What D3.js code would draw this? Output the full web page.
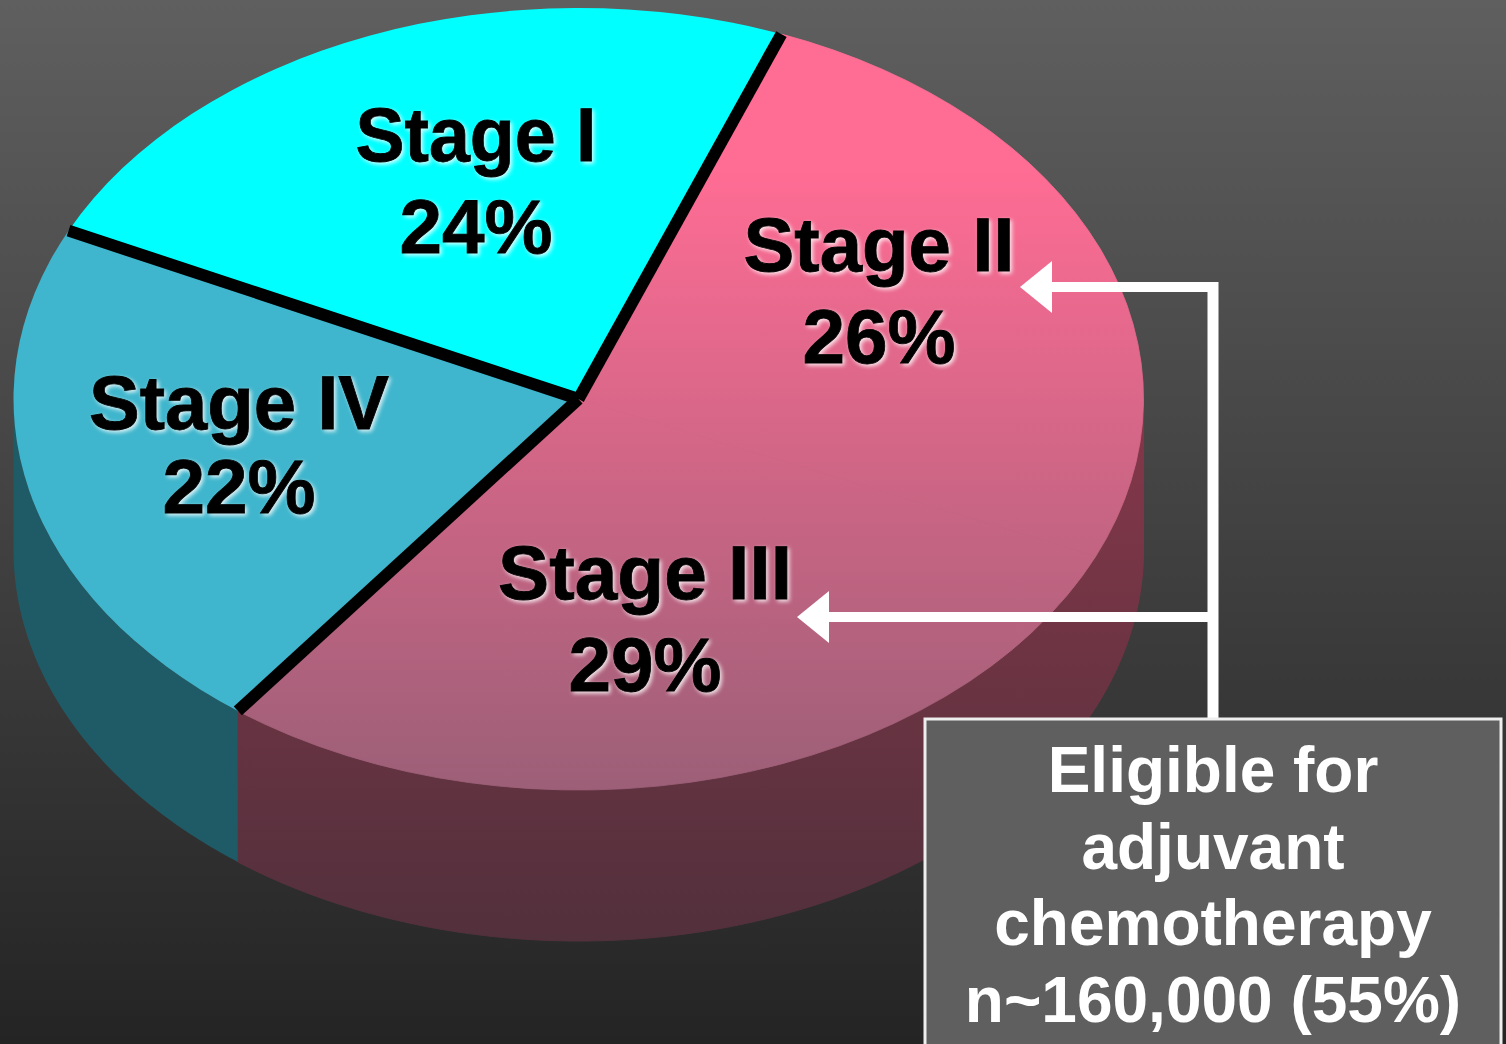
<!DOCTYPE html>
<html>
<head>
<meta charset="utf-8">
<script src="https://cdn.jsdelivr.net/npm/d3@7"></script>
<style>
html, body { margin: 0; padding: 0; overflow: hidden; background: #333; }
svg { display: block; }
text { font-family: "Liberation Sans", sans-serif; font-weight: bold; text-anchor: middle; }
.slice-label { font-size: 76.5px; fill: #000; stroke: #000; stroke-width: 0.8px; filter: drop-shadow(2px 2px 2px rgba(255,255,255,.85)); }
.box-label { font-size: 64px; fill: #fff; }
</style>
</head>
<body>
<svg id="canvas"></svg>
<script>
const stages = ["Stage I", "Stage II", "Stage III", "Stage IV"];
const shares = [24, 26, 29, 22];
// where each label sits
const labelX = [476, 879, 645, 239];
const labelY = [[161, 253], [271, 363], [599, 691], [429, 513]];
const nameWidth = [241, 271, 294, 300];
const boxLines = ["Eligible for", "adjuvant", "chemotherapy", "n~160,000 (55%)"];
const boxLineY = [792, 869, 945, 1022];

const w = 1506, h = 1044;
const cx = 578.5, cy = 399, rx = 565, ry = 391, depth = 151;
// stage I starts on the upper left, clockwise from there
const startAngle = -64.5 * Math.PI / 180;

const svg = d3.select("#canvas").attr("width", w).attr("height", h);
const defs = svg.append("defs");

function grad(id, y1, y2, from, to) {
    let g = defs.append("linearGradient").attr("id", id)
        .attr("gradientUnits", "userSpaceOnUse")
        .attr("x1", 0).attr("x2", 0).attr("y1", y1).attr("y2", y2);
    g.append("stop").attr("offset", 0).attr("stop-color", from);
    g.append("stop").attr("offset", 1).attr("stop-color", to);
}
// the top face group is squashed, so its gradient runs in the group's own units
const yToLocal = y => (y - cy) * rx / ry;
grad("bg", 0, h, "#5f5f5f", "#242424");
grad("pinkTop", yToLocal(170), yToLocal(790), "#ff6c94", "#9c5f77");
grad("pinkWall", 430, 940, "#833749", "#52303c");

const topFill = ["#00ffff", "url(#pinkTop)", "url(#pinkTop)", "#3fb6cd"];
const wallFill = ["#1f5b67", "url(#pinkWall)", "url(#pinkWall)", "#1f5b67"];

svg.append("rect").attr("width", w).attr("height", h).attr("fill", "url(#bg)");

const pie = d3.pie().sort(null).sortValues(null).startAngle(startAngle).endAngle(startAngle + 2 * Math.PI);
const slices = pie(shares);

const px = a => cx + rx * Math.sin(a);
const py = a => cy - ry * Math.cos(a);

// side walls, only the part of the rim that faces the viewer
const wallArea = d3.area().x(px).y0(py).y1(a => py(a) + depth);
const walls = svg.append("g");
slices.forEach((s, i) => {
    let a0 = Math.max(s.startAngle, Math.PI / 2);
    let a1 = Math.min(s.endAngle, 3 * Math.PI / 2);
    if (a1 <= a0) return;
    let steps = d3.range(a0, a1, 0.01).concat([a1]);
    walls.append("path").attr("d", wallArea(steps)).attr("fill", wallFill[i])
        .attr("stroke", i == 1 || i == 2 ? wallFill[i] : "none");
});

// top face, drawn as a circle and squashed into an ellipse
const arc = d3.arc().innerRadius(0).outerRadius(rx);
svg.append("g")
    .attr("transform", `translate(${cx},${cy}) scale(1,${ry / rx})`)
    .selectAll("path")
    .data(slices)
    .join("path")
    .attr("d", arc)
    .attr("fill", (d, i) => topFill[i])
    .attr("stroke", (d, i) => i == 1 || i == 2 ? topFill[i] : "none");

// black dividers, none between stage II and III
const dividers = [slices[0].startAngle, slices[0].endAngle, slices[2].endAngle];
svg.selectAll("line.divider")
    .data(dividers)
    .join("line")
    .attr("class", "divider")
    .attr("x1", cx).attr("y1", cy)
    .attr("x2", px).attr("y2", py)
    .attr("stroke", "#000")
    .attr("stroke-width", 12);

// labels
stages.forEach((name, i) => {
    let g = svg.append("g").attr("class", "slice-label");
    g.append("text").attr("x", labelX[i]).attr("y", labelY[i][0])
        .attr("textLength", nameWidth[i]).attr("lengthAdjust", "spacingAndGlyphs").text(name);
    g.append("text").attr("x", labelX[i]).attr("y", labelY[i][1]).text(shares[i] + "%");
});

// bracket and arrows
const stemX = 1213;
const arrowY = [287, 617];
const arrowTip = [1020, 797];
svg.append("line").attr("x1", stemX).attr("x2", stemX).attr("y1", arrowY[0] - 5).attr("y2", 720)
    .attr("stroke", "#fff").attr("stroke-width", 11);
arrowY.forEach((y, i) => {
    svg.append("line").attr("x1", stemX).attr("x2", arrowTip[i] + 20).attr("y1", y).attr("y2", y)
        .attr("stroke", "#fff").attr("stroke-width", 10);
    svg.append("path")
        .attr("d", d3.line()([[arrowTip[i], y], [arrowTip[i] + 32, y - 26], [arrowTip[i] + 32, y + 26]]) + "Z")
        .attr("fill", "#fff");
});

// box
svg.append("rect").attr("x", 925).attr("y", 719).attr("width", 576).attr("height", 340)
    .attr("fill", "#5f5f5f").attr("stroke", "#eee").attr("stroke-width", 3);
svg.selectAll("text.box-label")
    .data(boxLines)
    .join("text")
    .attr("class", "box-label")
    .attr("x", 1213)
    .attr("y", (d, i) => boxLineY[i])
    .text(d => d);
</script>
</body>
</html>
